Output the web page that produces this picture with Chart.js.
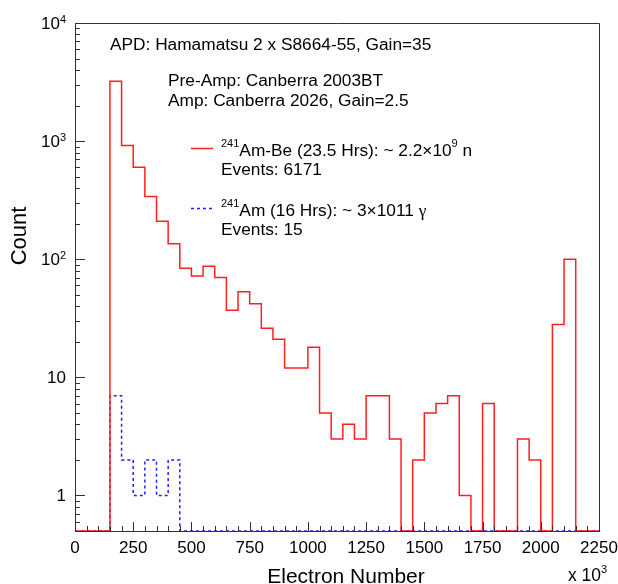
<!DOCTYPE html>
<html>
<head>
<meta charset="utf-8">
<script src="https://cdn.jsdelivr.net/npm/chart.js@4.4.0/dist/chart.umd.min.js"></script>
<style>
  html, body { margin: 0; padding: 0; background: #fff; }
  #wrap { width: 618px; height: 584px; }
</style>
</head>
<body>
<div id="wrap"><canvas id="chart" width="618" height="584"></canvas></div>
<script>
// histogram bins, 50 (x10^3 electrons) wide
const binWidth = 50;
const binStarts = [0, 50, 100, 150, 200, 250, 300, 350, 400, 450, 500, 550, 600, 650, 700,
  750, 800, 850, 900, 950, 1000, 1050, 1100, 1150, 1200, 1250, 1300, 1350, 1400, 1450, 1500,
  1550, 1600, 1650, 1700, 1750, 1800, 1850, 1900, 1950, 2000, 2050, 2100, 2150, 2200];
const amBeCounts = [0, 0, 0, 3220, 920, 600, 340, 210, 135, 84, 72, 87, 70, 37, 53,
  42, 26, 21, 12, 12, 18, 5, 3, 4, 3, 7, 7, 3, 0, 2, 5,
  6, 7, 1, 0, 6, 0, 0, 3, 2, 0, 28, 100, 0, 0];
const amCounts = [0, 0, 0, 7, 2, 1, 2, 1, 2, 0, 0, 0, 0, 0, 0,
  0, 0, 0, 0, 0, 0, 0, 0, 0, 0, 0, 0, 0, 0, 0, 0,
  0, 0, 0, 0, 0, 0, 0, 0, 0, 0, 0, 0, 0, 0];

const xTicks = [0, 250, 500, 750, 1000, 1250, 1500, 1750, 2000, 2250];
const yTicks = [1, 10, 100, 1000, 10000];
const yTickBase = ["1", "10", "10", "10", "10"];
const yTickExp = ["", "", "2", "3", "4"];
const yMin = 0.5;
const yMax = 10000;

const FONT = "'Liberation Sans', Arial, Helvetica, sans-serif";
const TXT = 17.3;

// step points at the left edge of every bin, plus the closing edge
function toSteps(counts) {
  const pts = binStarts.map((x, i) => ({ x: x, y: Math.max(counts[i], yMin) }));
  const last = counts.length - 1;
  pts.push({ x: binStarts[last] + binWidth, y: Math.max(counts[last], yMin) });
  return pts;
}

// draw text made of normal / superscript pieces
function supSize(size) { return Math.round(size * 0.62); }
function richWidth(ctx, parts, size) {
  let w = 0;
  parts.forEach(p => {
    ctx.font = (p.sup ? supSize(size) : size) + "px " + (p.serif ? "'Liberation Serif', serif" : FONT);
    w += ctx.measureText(p.t).width;
  });
  return w;
}
function richText(ctx, parts, x, y, size, align, raise) {
  if (align === "right") x -= richWidth(ctx, parts, size);
  ctx.textAlign = "left";
  ctx.textBaseline = "alphabetic";
  parts.forEach(p => {
    const s = p.sup ? supSize(size) : size;
    ctx.font = s + "px " + (p.serif ? "'Liberation Serif', serif" : FONT);
    ctx.fillText(p.t, x, p.sup ? y - raise : y);
    x += ctx.measureText(p.t).width;
  });
}

const framePlugin = {
  id: "frame",
  afterDraw(chart) {
    const ctx = chart.ctx;
    const a = chart.chartArea;
    const xs = chart.scales.x;
    const ys = chart.scales.y;
    ctx.save();
    ctx.strokeStyle = "#333";
    ctx.lineWidth = 1;

    // box
    ctx.beginPath();
    ctx.moveTo(a.left, a.top + 0.5);
    ctx.lineTo(a.right + 0.5, a.top + 0.5);
    ctx.lineTo(a.right + 0.5, a.bottom);
    ctx.stroke();

    // inward ticks on x
    ctx.beginPath();
    for (let v = xs.min; v <= xs.max; v += binWidth) {
      const px = Math.round(xs.getPixelForValue(v)) + 0.5;
      const len = v % 250 === 0 ? 9 : 5;
      ctx.moveTo(px, a.bottom);
      ctx.lineTo(px, a.bottom - len);
    }
    // inward ticks on log y
    for (let d = -1; d <= 4; d++) {
      for (let m = 1; m <= 9; m++) {
        const v = m * Math.pow(10, d);
        if (v < yMin || v > yMax) continue;
        const py = Math.round(ys.getPixelForValue(v)) + 0.5;
        const len = m === 1 ? 10 : 5;
        ctx.moveTo(a.left, py);
        ctx.lineTo(a.left + len, py);
      }
    }
    ctx.stroke();

    ctx.fillStyle = "#000";
    // y tick labels
    yTicks.forEach((v, i) => {
      const py = ys.getPixelForValue(v);
      const parts = [{ t: yTickBase[i] }];
      if (yTickExp[i]) parts.push({ t: yTickExp[i], sup: true });
      richText(ctx, parts, 66, py + 6, 17, "right", 6);
    });

    // axis titles
    ctx.font = "21px " + FONT;
    ctx.textAlign = "center";
    ctx.textBaseline = "alphabetic";
    ctx.fillText("Electron Number", 346, 583);
    ctx.save();
    ctx.translate(26, 236);
    ctx.rotate(-Math.PI / 2);
    ctx.font = "22px " + FONT;
    ctx.fillText("Count", 0, 0);
    ctx.restore();
    richText(ctx, [{ t: "x 10" }, { t: "3", sup: true }], 568, 581, 17.5, "left", 8);

    // info text
    ctx.font = TXT + "px " + FONT;
    ctx.textAlign = "left";
    ctx.fillText("APD: Hamamatsu 2 x S8664-55, Gain=35", 110, 50);
    ctx.fillText("Pre-Amp: Canberra 2003BT", 168, 86);
    ctx.fillText("Amp: Canberra 2026, Gain=2.5", 168, 106);

    // legend
    const ds = chart.data.datasets;
    const rows = [
      { y: 148, parts: [{ t: "241", sup: true }, { t: "Am-Be (23.5 Hrs): ~ 2.2\u00d710" }, { t: "9", sup: true }, { t: " n" }], events: "Events: 6171" },
      { y: 208, parts: [{ t: "241", sup: true }, { t: "Am (16 Hrs): ~ 3\u00d71011 " }, { t: "\u03b3", serif: true }], events: "Events: 15" }
    ];
    rows.forEach((r, i) => {
      ctx.save();
      ctx.strokeStyle = ds[i].borderColor;
      ctx.lineWidth = ds[i].borderWidth;
      ctx.setLineDash(ds[i].borderDash || []);
      ctx.beginPath();
      ctx.moveTo(191, r.y + 0.5);
      ctx.lineTo(213, r.y + 0.5);
      ctx.stroke();
      ctx.restore();
      richText(ctx, r.parts, 221, r.y + 7.5, TXT, "left", 9);
      ctx.font = TXT + "px " + FONT;
      ctx.fillText(r.events, 221, r.y + 27);
    });
    ctx.restore();
  }
};

new Chart(document.getElementById("chart"), {
  type: "line",
  data: {
    datasets: [
      {
        label: "241Am-Be",
        data: toSteps(amBeCounts),
        borderColor: "#ff2020",
        borderWidth: 1.5,
        stepped: true,
        pointRadius: 0,
        fill: false
      },
      {
        label: "241Am",
        data: toSteps(amCounts),
        borderColor: "#2020ff",
        borderWidth: 1.5,
        borderDash: [3, 3],
        stepped: true,
        pointRadius: 0,
        fill: false
      }
    ]
  },
  plugins: [framePlugin],
  options: {
    responsive: false,
    animation: false,
    layout: { padding: { top: 23, right: 19, left: 0, bottom: 0 } },
    plugins: { legend: { display: false }, tooltip: { enabled: false } },
    scales: {
      x: {
        type: "linear",
        min: 0,
        max: 2250,
        afterBuildTicks: s => { s.ticks = xTicks.map(v => ({ value: v })); },
        afterFit: s => { s.height = 53; s.paddingLeft = 0; s.paddingRight = 0; },
        ticks: {
          font: { size: 17, family: FONT }, color: "#000", padding: 7,
          maxRotation: 0, autoSkip: false, callback: v => String(v)
        },
        grid: { display: false, drawTicks: false },
        border: { color: "#333", width: 1 }
      },
      y: {
        type: "logarithmic",
        min: yMin,
        max: yMax,
        afterFit: s => { s.width = 75; },
        ticks: { display: false },
        grid: { display: false, drawTicks: false },
        border: { color: "#333", width: 1 }
      }
    }
  }
});
</script>
</body>
</html>
